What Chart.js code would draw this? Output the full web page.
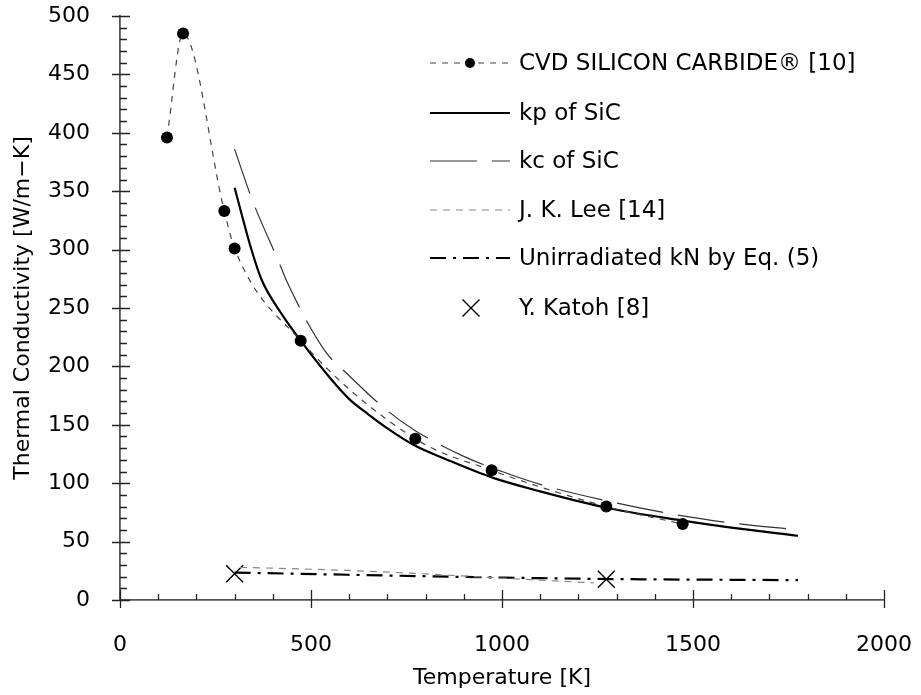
<!DOCTYPE html>
<html>
<head>
<meta charset="utf-8">
<script src="https://cdn.jsdelivr.net/npm/chart.js@4"></script>
<style>
  html, body { margin: 0; padding: 0; background: #fff; }
  #wrap { width: 921px; height: 695px; }
</style>
</head>
<body>
<div id="wrap"><canvas id="kChart" width="921" height="695"></canvas></div>
<script>
// CVD SILICON CARBIDE [10] measured points
const cvdT = [123, 165, 273, 300, 473, 773, 973, 1273, 1473];
const cvdK = [396, 485, 333, 301, 222, 138, 111, 80, 65];

// kp of SiC
const kpT = [300, 345, 371, 423, 473, 550, 600, 650, 700, 773, 850, 973, 1100, 1273, 1473, 1600, 1775];
const kpK = [353, 299, 274, 245, 222, 190, 172, 159, 147, 132, 121, 105, 93, 79, 68, 62, 55];

// kc of SiC
const kcT = [300, 340, 354, 420, 435, 535, 600, 700, 773, 900, 1000, 1100, 1273, 1473, 1600, 1775];
const kcK = [386, 348, 336, 286, 274, 214, 192, 162, 145, 123, 110, 99, 85, 72, 66, 60];

// J. K. Lee [14]
const leeT = [314, 598, 859, 1015, 1240];
const leeK = [28, 25.3, 21.3, 18.4, 14.7];

// Unirradiated kN by Eq. (5)
const knT = [300, 1000, 1273, 1775];
const knK = [23.5, 19.2, 18, 17];

// Y. Katoh [8]
const katohT = [300, 1273];
const katohK = [22.5, 17.7];

const xTicks = [0, 500, 1000, 1500, 2000];
const yTicks = [0, 50, 100, 150, 200, 250, 300, 350, 400, 450, 500];

const FONT = '"DejaVu Sans", sans-serif';

function pts(xs, ys) {
    return xs.map((x, i) => ({ x: x, y: ys[i] }));
}

// legend entries (drawn by plugin below)
const legendItems = [
    { text: 'CVD SILICON CARBIDE\u00AE [10]', dash: [6, 6], color: '#444', width: 1.2, dot: true },
    { text: 'kp of SiC', dash: [], color: '#000', width: 2.2 },
    { text: 'kc of SiC', dash: [47, 15], color: '#333', width: 1.2 },
    { text: 'J. K. Lee [14]', dash: [7, 6], color: '#888', width: 1.2 },
    { text: 'Unirradiated kN by Eq. (5)', dash: [16, 7, 3, 7], color: '#000', width: 2.2 },
    { text: 'Y. Katoh [8]', cross: true }
];

// Tick marks: majors cross the axis, minors point inward
const tickMarks = {
    id: 'tickMarks',
    afterDraw(chart) {
        const ctx = chart.ctx;
        const xs = chart.scales.x;
        const ys = chart.scales.y;
        const x0 = xs.getPixelForValue(0);
        const y0 = ys.getPixelForValue(0);
        ctx.save();
        ctx.strokeStyle = '#222';
        ctx.lineWidth = 1.3;
        ctx.beginPath();
        for (let v = 0; v <= 500; v += 10) {
            const p = Math.round(ys.getPixelForValue(v)) + 0.5;
            if (v % 50 === 0) {
                ctx.moveTo(x0 - 8, p); ctx.lineTo(x0 + 10, p);
            } else {
                ctx.moveTo(x0, p); ctx.lineTo(x0 + 7, p);
            }
        }
        for (let v = 0; v <= 2000; v += 100) {
            const p = Math.round(xs.getPixelForValue(v)) + 0.5;
            if (v % 500 === 0) {
                ctx.moveTo(p, y0 - 10); ctx.lineTo(p, y0 + 8);
            } else {
                ctx.moveTo(p, y0 - 6); ctx.lineTo(p, y0);
            }
        }
        ctx.stroke();
        ctx.restore();
    }
};

// Legend in the upper right
const customLegend = {
    id: 'customLegend',
    afterDraw(chart) {
        const ctx = chart.ctx;
        const lx0 = 430, lx1 = 510, tx = 519;
        const rows = [63, 113, 161, 210, 258, 308];
        ctx.save();
        ctx.font = '23px ' + FONT;
        ctx.textBaseline = 'middle';
        ctx.fillStyle = '#000';
        legendItems.forEach((item, i) => {
            const y = rows[i];
            if (item.cross) {
                const cx = 471, r = 8.5;
                ctx.strokeStyle = '#000';
                ctx.lineWidth = 1.4;
                ctx.setLineDash([]);
                ctx.beginPath();
                ctx.moveTo(cx - r, y - r); ctx.lineTo(cx + r, y + r);
                ctx.moveTo(cx + r, y - r); ctx.lineTo(cx - r, y + r);
                ctx.stroke();
            } else {
                ctx.strokeStyle = item.color;
                ctx.lineWidth = item.width;
                ctx.setLineDash(item.dash);
                ctx.beginPath();
                ctx.moveTo(lx0, y); ctx.lineTo(lx1, y);
                ctx.stroke();
                if (item.dot) {
                    ctx.setLineDash([]);
                    ctx.beginPath();
                    ctx.arc(470, y, 5, 0, Math.PI * 2);
                    ctx.fill();
                }
            }
            ctx.setLineDash([]);
            ctx.fillText(item.text, tx, y + 1);
        });
        ctx.restore();
    }
};

const ctxK = document.getElementById('kChart').getContext('2d');
const chartK = new Chart(ctxK, {
    type: 'scatter',
    data: {
        datasets: [
            {
                label: 'CVD',
                data: pts(cvdT, cvdK),
                showLine: true,
                borderColor: '#444',
                borderWidth: 1.2,
                borderDash: [6, 6],
                cubicInterpolationMode: 'monotone',
                pointRadius: 6,
                pointBackgroundColor: '#000',
                pointBorderColor: '#000',
                pointBorderWidth: 0
            },
            {
                label: 'kp',
                data: pts(kpT, kpK),
                showLine: true,
                borderColor: '#000',
                borderWidth: 2.2,
                cubicInterpolationMode: 'monotone',
                pointRadius: 0
            },
            {
                label: 'kc',
                data: pts(kcT, kcK),
                showLine: true,
                borderColor: '#333',
                borderWidth: 1.2,
                borderDash: [47, 15],
                cubicInterpolationMode: 'monotone',
                pointRadius: 0
            },
            {
                label: 'Lee',
                data: pts(leeT, leeK),
                showLine: true,
                borderColor: '#888',
                borderWidth: 1.2,
                borderDash: [7, 6],
                cubicInterpolationMode: 'monotone',
                pointRadius: 0
            },
            {
                label: 'kN',
                data: pts(knT, knK),
                showLine: true,
                borderColor: '#000',
                borderWidth: 2.2,
                borderDash: [16, 7, 3, 7],
                cubicInterpolationMode: 'monotone',
                pointRadius: 0
            },
            {
                label: 'Katoh',
                data: pts(katohT, katohK),
                showLine: false,
                pointStyle: 'crossRot',
                pointRadius: 12,
                borderColor: '#000',
                borderWidth: 1.4
            }
        ]
    },
    options: {
        responsive: false,
        animation: false,
        clip: false,
        layout: { padding: { top: 16, right: 37, left: 0, bottom: 0 } },
        plugins: {
            legend: { display: false },
            tooltip: { enabled: false }
        },
        scales: {
            x: {
                type: 'linear',
                min: 0,
                max: 2000,
                afterBuildTicks: (scale) => { scale.ticks = xTicks.map(v => ({ value: v })); },
                afterFit: (scale) => { scale.height = 95; },
                grid: {
                    display: true, drawOnChartArea: false, drawTicks: true,
                    tickLength: 32, tickColor: 'rgba(0,0,0,0)'
                },
                border: { display: true, color: '#555', width: 1.8 },
                ticks: {
                    color: '#000',
                    font: { family: FONT, size: 22 },
                    padding: 0,
                    maxRotation: 0,
                    callback: (v) => String(v)
                },
                title: {
                    display: true,
                    text: 'Temperature [K]',
                    color: '#000',
                    font: { family: FONT, size: 22 },
                    padding: { top: 4, bottom: 4 }
                }
            },
            y: {
                type: 'linear',
                min: 0,
                max: 500,
                afterBuildTicks: (scale) => { scale.ticks = yTicks.map(v => ({ value: v })); },
                afterFit: (scale) => { scale.width = 120; },
                grid: {
                    display: true, drawOnChartArea: false, drawTicks: true,
                    tickLength: 30, tickColor: 'rgba(0,0,0,0)'
                },
                border: { display: true, color: '#555', width: 1.8 },
                ticks: {
                    color: '#000',
                    font: { family: FONT, size: 22 },
                    padding: 0,
                    callback: (v) => String(v)
                },
                title: {
                    display: true,
                    text: 'Thermal Conductivity [W/m\u2212K]',
                    color: '#000',
                    font: { family: FONT, size: 22 },
                    padding: { top: 10, bottom: 4 }
                }
            }
        }
    },
    plugins: [tickMarks, customLegend]
});
</script>
</body>
</html>
